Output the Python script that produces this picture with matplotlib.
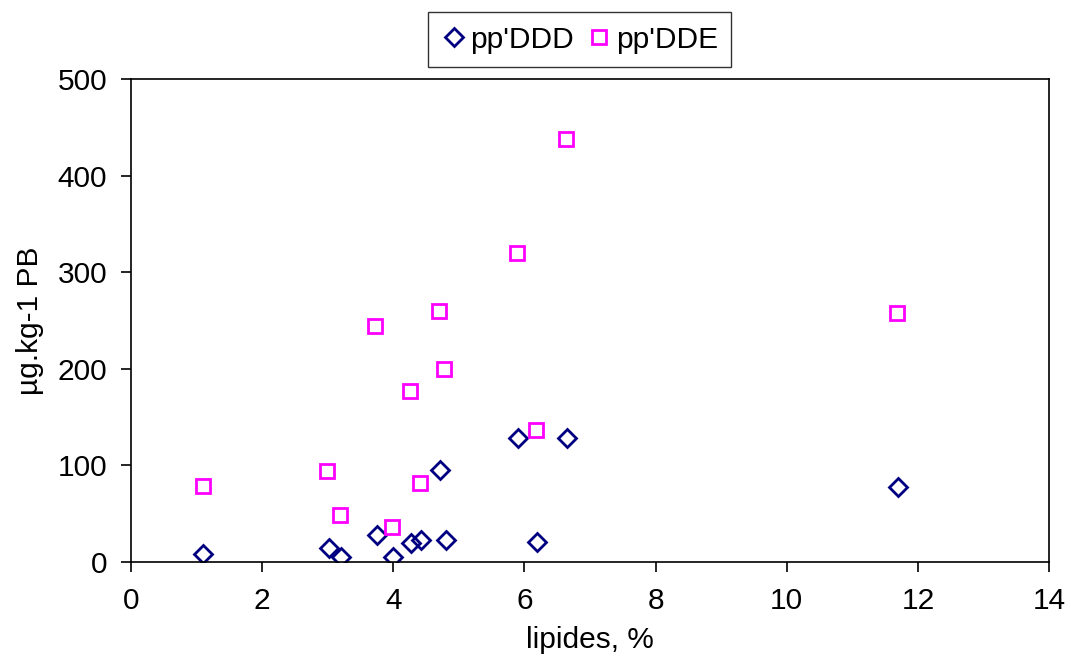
import matplotlib
matplotlib.use('Agg')
import matplotlib.pyplot as plt

plt.rcParams['font.family'] = ['Liberation Sans', 'DejaVu Sans']

lip_ddd = [1.10, 3.02, 3.20, 3.75, 4.00, 4.27, 4.42, 4.71, 4.80, 5.90, 6.19, 6.65, 11.70]
ddd = [8, 15, 5, 28, 5, 20, 23, 95, 23, 128, 21, 128, 78]

lip_dde = [1.10, 2.99, 3.19, 3.72, 3.98, 4.25, 4.41, 4.70, 4.77, 5.89, 6.18, 6.63, 11.68]
dde = [79, 94, 49, 244, 36, 177, 82, 260, 200, 320, 137, 438, 258]

fig = plt.figure(figsize=(10.71, 6.64), dpi=100)
ax = fig.add_axes([0.1223, 0.1536, 0.8572, 0.7274])

ax.plot(lip_ddd, ddd, 'D', ms=9.5, mfc='none', mec='#000080', mew=2, label="pp'DDD")
ax.plot(lip_dde, dde, 's', ms=9.5, mfc='none', mec='#ff00ff', mew=2, label="pp'DDE")

ax.set_xlim(0, 14)
ax.set_ylim(0, 500)
ax.set_xticks(range(0, 15, 2))
ax.set_yticks(range(0, 501, 100))
ax.tick_params(labelsize=21.5, direction='out', length=7, width=1.2)
ax.tick_params(axis='x', pad=11)
ax.tick_params(axis='y', pad=10)
for s in ax.spines.values():
    s.set_linewidth(1.2)
ax.set_xlabel('lipides, %', fontsize=21.5, labelpad=8)
ax.set_ylabel('µg.kg-1 PB', fontsize=21.5, labelpad=10)

fig.legend(loc='center', bbox_to_anchor=(0.5415, 0.9405), ncol=2, fontsize=21.5,
           frameon=True, fancybox=False, edgecolor='black', handletextpad=0.15,
           columnspacing=0.45, handlelength=0.8, borderpad=0.45, borderaxespad=0)

fig.savefig('out.png', dpi=100)
